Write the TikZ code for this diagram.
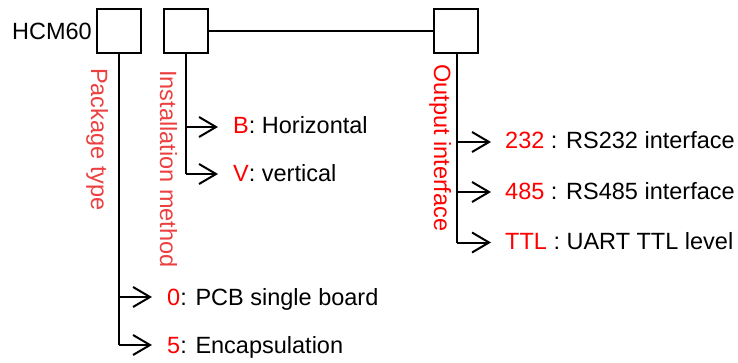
\documentclass[tikz,border=0pt]{standalone}
\usepackage{fontspec}
\setmainfont{Liberation Sans}
\usetikzlibrary{arrows.meta}
\definecolor{softred}{RGB}{236,64,64}
\definecolor{purered}{RGB}{255,0,0}
\begin{document}
\begin{tikzpicture}[x=1pt,y=-1pt,
  txt/.style={inner sep=0pt,font=\fontsize{23.5}{28}\selectfont},
  codebox/.style={draw,line width=2pt,minimum size=44pt,inner sep=0pt},
  conn/.style={line width=2pt},
  branch/.style={line width=2pt,-{Straight Barb[length=17pt,width=20pt,line width=2pt]}},
  vlabel/.style={txt,rotate=-90,anchor=base west}]
\useasboundingbox (0,0) rectangle (738,363);
% boxes
\node[codebox] (b1) at (119,31.5) {};
\node[codebox] (b2) at (186,31.5) {};
\node[codebox] (b3) at (456,31.5) {};
\node[txt,anchor=base east] (hcm) at (92,39.5) {HCM60};
\draw[conn] (b2.east) -- (b3.west);
% corner coordinates
\coordinate (p1) at (119,297);
\coordinate (p2) at (119,345);
\coordinate (i1) at (186,127);
\coordinate (i2) at (186,174);
\coordinate (o1) at (457,142);
\coordinate (o2) at (457,192);
\coordinate (o3) at (457,242.5);
\coordinate (pt1) at (152,297);
\coordinate (pt2) at (152,345);
\coordinate (it1) at (218,127);
\coordinate (it2) at (218,174);
\coordinate (ot1) at (491,142);
\coordinate (ot2) at (491,192);
\coordinate (ot3) at (491,242.5);
% vertical trunks
\draw[conn] (b1.south) -- (p2);
\draw[conn] (b2.south) -- (i2);
\draw[conn] (b3.south -| o1) -- (o3);
% branches
\draw[branch] (p1) -- (pt1);
\draw[branch] (p2) -- (pt2);
\draw[branch] (i1) -- (it1);
\draw[branch] (i2) -- (it2);
\draw[branch] (o1) -- (ot1);
\draw[branch] (o2) -- (ot2);
\draw[branch] (o3) -- (ot3);
% vertical labels
\node[vlabel,text=softred] (lp) at (91,68) {Package type};
\node[vlabel,text=softred] (li) at (160,70) {Installation method};
\node[vlabel,text=purered] (lo) at (434,64) {Output interface};
% option labels
\node[txt,anchor=base west] (t0) at (167,305) {\textcolor{purered}{0}: PCB single board};
\node[txt,anchor=base west] (t5) at (167,353) {\textcolor{purered}{5}: Encapsulation};
\node[txt,anchor=base west] (tb) at (233,134) {\textcolor{purered}{B}: Horizontal};
\node[txt,anchor=base west] (tv) at (233,182) {\textcolor{purered}{V}: vertical};
\node[txt,anchor=base west] (t232) at (505,149) {\textcolor{purered}{232} : RS232 interface};
\node[txt,anchor=base west] (t485) at (505,199.5) {\textcolor{purered}{485} : RS485 interface};
\node[txt,anchor=base west] (tttl) at (505,250) {\textcolor{purered}{TTL} : UART TTL level};
\end{tikzpicture}
\end{document}
